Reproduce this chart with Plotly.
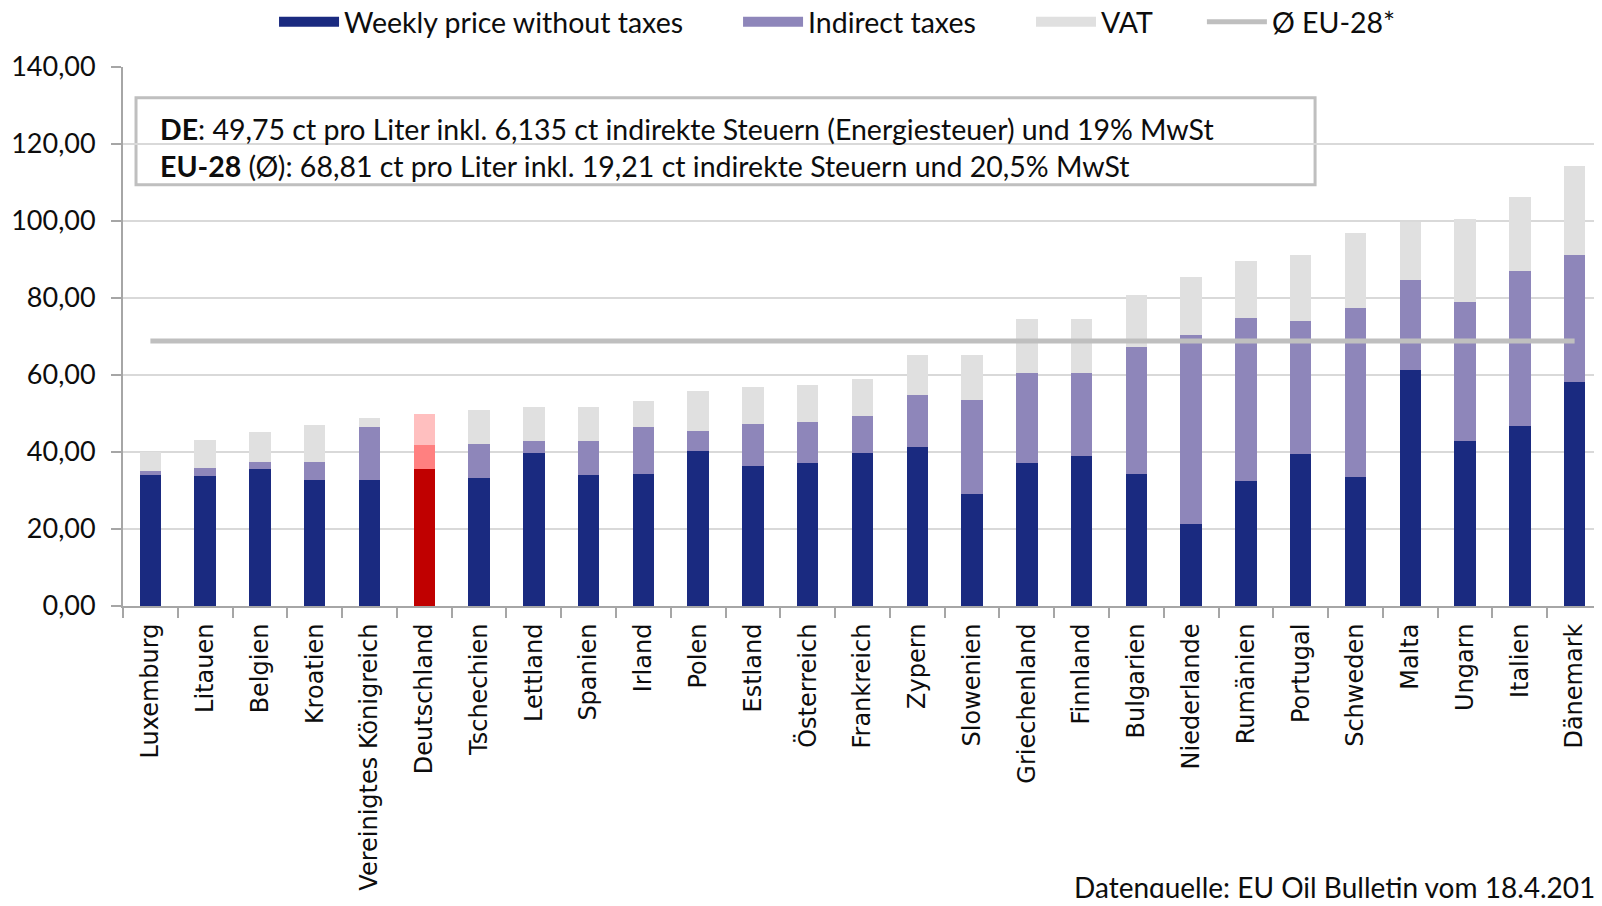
import plotly.graph_objects as go

countries = ['Luxemburg', 'Litauen', 'Belgien', 'Kroatien', 'Vereinigtes Königreich', 'Deutschland',
             'Tschechien', 'Lettland', 'Spanien', 'Irland', 'Polen', 'Estland', 'Österreich',
             'Frankreich', 'Zypern', 'Slowenien', 'Griechenland', 'Finnland', 'Bulgarien',
             'Niederlande', 'Rumänien', 'Portugal', 'Schweden', 'Malta', 'Ungarn', 'Italien', 'Dänemark']

# ct per litre
price_wo_taxes = [34.0, 33.7, 35.6, 32.8, 32.8, 35.67, 33.2, 39.7, 34.0, 34.4, 40.2, 36.4, 37.1,
                  39.7, 41.3, 29.1, 37.1, 39.0, 34.4, 21.3, 32.5, 39.5, 33.6, 61.3, 42.9, 46.8, 58.2]
indirect_taxes = [1.1, 2.2, 1.8, 4.6, 13.8, 6.14, 8.9, 3.2, 8.9, 12.2, 5.3, 11.0, 10.7,
                  9.7, 13.4, 24.5, 23.4, 21.5, 33.0, 49.2, 42.2, 34.4, 43.8, 23.4, 36.0, 40.2, 33.0]
vat = [4.9, 7.3, 7.7, 9.6, 2.3, 7.94, 8.8, 8.8, 8.8, 6.6, 10.3, 9.6, 9.6,
       9.6, 10.4, 11.5, 14.1, 14.1, 13.5, 15.0, 15.0, 17.3, 19.6, 15.1, 21.5, 19.2, 23.2]
eu_avg = 68.81
highlight = 'Deutschland'

NAVY, PURPLE, GREY = '#1a2a80', '#8e86ba', '#e0e0e0'
HL_COLORS = ['#c00000', '#ff8080', '#ffbfbf']
TXT_FONT = 'Lato, Open Sans, sans-serif'
LEGEND_X = [0.1669, 0.458, 0.6418, 0.749]  # one small legend per entry, spaced like the original


def colors_for(base_color, hl_color):
    return [hl_color if c == highlight else base_color for c in countries]


fig = go.Figure()
series = [('Weekly price without taxes', price_wo_taxes, NAVY, HL_COLORS[0]),
          ('Indirect taxes', indirect_taxes, PURPLE, HL_COLORS[1]),
          ('VAT', vat, GREY, HL_COLORS[2])]
for i, (name, vals, col, hl) in enumerate(series):
    fig.add_trace(go.Bar(x=countries, y=vals, name=name, showlegend=False,
                         marker=dict(color=colors_for(col, hl), line=dict(width=0))))
    # legend-only entry so the swatch is a wide block like in the original
    fig.add_trace(go.Scatter(x=[None], y=[None], mode='lines', name=name,
                             legend='legend' if i == 0 else f'legend{i + 1}',
                             line=dict(color=col, width=15)))

fig.add_trace(go.Scatter(x=countries, y=[eu_avg] * len(countries), mode='lines', name='Ø EU-28*',
                         legend='legend4', line=dict(color='#bfbfbf', width=5)))

# info box
fig.add_shape(type='rect', xref='paper', yref='paper', x0=0.0088, x1=0.806, y0=0.7817, y1=0.943,
              line=dict(color='#bfbfbf', width=3), fillcolor='white', layer='between')
fig.add_annotation(xref='paper', yref='paper', x=0.0237, y=0.851, xanchor='left', yanchor='middle',
                   showarrow=False, align='left',
                   text='<b>DE</b>: 49,75 ct pro Liter inkl. 6,135 ct indirekte Steuern (Energiesteuer) und 19% MwSt'
                        '<br><b>EU-28</b> (Ø): 68,81 ct pro Liter inkl. 19,21 ct indirekte Steuern und 20,5% MwSt',
                   font=dict(family=TXT_FONT, size=28.5, color='#0d0d0d'))
fig.add_annotation(xref='paper', yref='paper', x=0.6417, y=-0.5208, xanchor='left', yanchor='middle',
                   showarrow=False, text='Datenquelle: EU Oil Bulletin vom 18.4.2016',
                   font=dict(family=TXT_FONT, size=28, color='#0d0d0d'))

legend_style = dict(orientation='h', xref='container', yref='container', y=0.984,
                    xanchor='left', yanchor='middle', itemwidth=60,
                    font=dict(family=TXT_FONT, size=28.5, color='#0d0d0d'), bgcolor='rgba(0,0,0,0)')

fig.update_layout(
    width=1594, height=890, barmode='stack', bargap=0.61, separators=',.',
    plot_bgcolor='white', paper_bgcolor='white',
    margin=dict(l=115, r=0, t=59, b=292),
    font=dict(family=TXT_FONT, size=28, color='#0d0d0d'),
    legend=dict(x=LEGEND_X[0], **legend_style),
    legend2=dict(x=LEGEND_X[1], **legend_style),
    legend3=dict(x=LEGEND_X[2], **legend_style),
    legend4=dict(x=LEGEND_X[3], **legend_style),
)
fig.update_yaxes(range=[0, 140], dtick=20, tickformat='.2f', showgrid=True, gridcolor='#d9d9d9',
                 gridwidth=2, showline=True, linecolor='#a6a6a6', linewidth=2, ticks='outside',
                 ticklen=10, tickcolor='#a6a6a6', tickwidth=2, ticklabelstandoff=10, zeroline=False,
                 tickfont=dict(size=27))
fig.update_xaxes(tickangle=-90, tickson='boundaries', ticks='outside', ticklen=10, tickcolor='#a6a6a6',
                 tickwidth=2, showline=True, linecolor='#a6a6a6', linewidth=2, ticklabelstandoff=6,
                 tickfont=dict(family='DejaVu Sans', size=24, color='#0d0d0d'))

fig.write_html('out.html')
